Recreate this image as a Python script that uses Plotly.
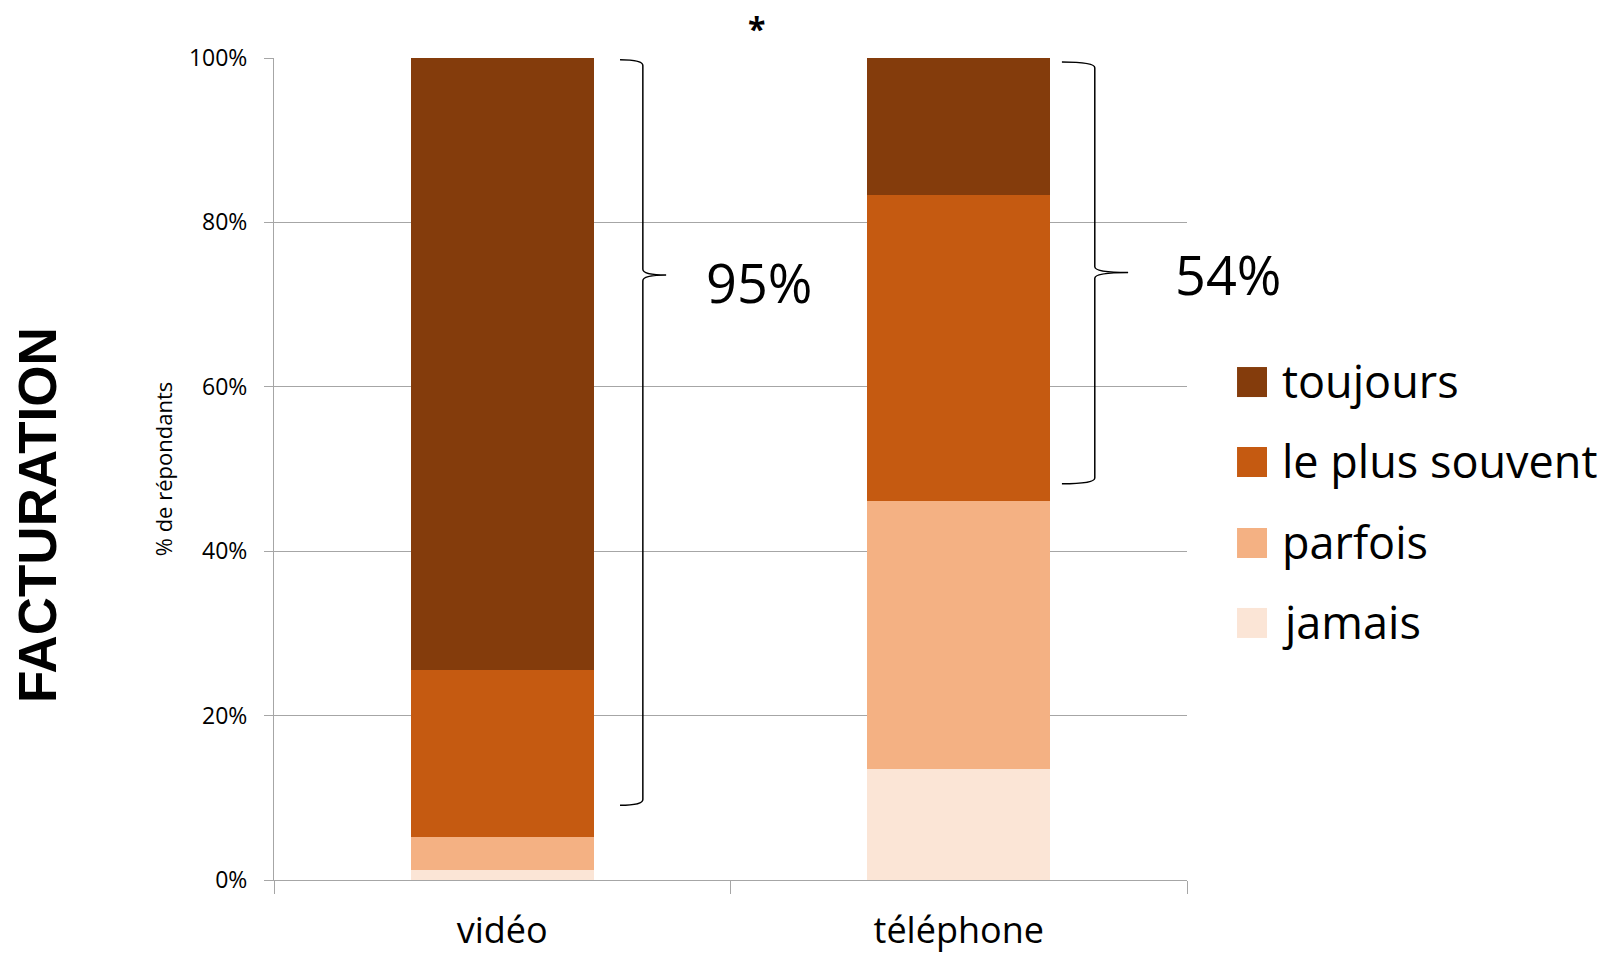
import plotly.graph_objects as go

# ---- data ----
categories = ["vidéo", "téléphone"]
series_names = ["jamais", "parfois", "le plus souvent", "toujours"]
series_colors = ["#FBE5D6", "#F4B183", "#C55A11", "#843C0C"]
jamais = [1.2, 13.5]
parfois = [4.0, 32.6]
le_plus_souvent = [20.3, 37.2]
toujours = [74.5, 16.7]
series_values = [jamais, parfois, le_plus_souvent, toujours]

y_ticks = [0, 20, 40, 60, 80, 100]

# brace annotations (x in category units, y in %)
brace_labels = ["95%", "54%"]
brace_x0 = [0.258, 1.226]
brace_xv = [0.308, 1.298]
brace_xt = [0.359, 1.371]
brace_top = [99.8, 99.5]
brace_mid = [73.6, 73.9]
brace_bot = [9.1, 48.2]

FONT = "Open Sans"

fig = go.Figure()
for name, color, vals in zip(series_names, series_colors, series_values):
    fig.add_trace(go.Bar(
        x=categories, y=vals, name=name,
        marker=dict(color=color, line=dict(width=0)),
        width=0.4, showlegend=False,
    ))

shapes = []
annotations = []

def brace_path(x0, xv, xt, top, mid, bot, r=0.7):
    return (f"M{x0},{top} Q{xv},{top} {xv},{top - r} "
            f"L{xv},{mid + r} Q{xv},{mid} {xt},{mid} "
            f"Q{xv},{mid} {xv},{mid - r} "
            f"L{xv},{bot + r} Q{xv},{bot} {x0},{bot}")

for i in range(len(brace_labels)):
    shapes.append(dict(
        type="path", xref="x", yref="y",
        path=brace_path(brace_x0[i], brace_xv[i], brace_xt[i],
                        brace_top[i], brace_mid[i], brace_bot[i]),
        line=dict(color="black", width=1.5),
    ))

# brace labels
label_pos = [(0.531, 0.727), (1.045, 0.737)]
for lab, (px, py) in zip(brace_labels, label_pos):
    annotations.append(dict(
        text=lab, x=px, y=py, xref="paper", yref="paper",
        xanchor="center", yanchor="middle", showarrow=False,
        font=dict(family=FONT, size=54, color="black"),
    ))

# custom legend (top to bottom: toujours, le plus souvent, parfois, jamais)
leg_y = [0.6058, 0.5085, 0.41, 0.3127]
half = 0.01825
for j, idx in enumerate(reversed(range(len(series_names)))):
    yc = leg_y[j]
    shapes.append(dict(
        type="rect", xref="paper", yref="paper",
        x0=1.0548, x1=1.0876, y0=yc - half, y1=yc + half,
        fillcolor=series_colors[idx], line=dict(width=0),
    ))
    annotations.append(dict(
        text=series_names[idx], x=1.102, y=yc + 0.002, xref="paper", yref="paper",
        xanchor="left", yanchor="middle", showarrow=False,
        font=dict(family=FONT, size=45, color="black"),
    ))

# asterisk
annotations.append(dict(
    text="<b>*</b>", x=0.528, y=1.036, xref="paper", yref="paper",
    xanchor="center", yanchor="middle", showarrow=False,
    font=dict(family=FONT, size=32, color="black"),
))

# FACTURATION
annotations.append(dict(
    text="<b>FACTURATION</b>", x=-0.2596, y=0.444, xref="paper", yref="paper",
    xanchor="center", yanchor="middle", showarrow=False, textangle=-90,
    font=dict(family="Liberation Sans", size=53, color="black"),
))

fig.update_layout(
    width=1611, height=955,
    margin=dict(l=274, r=424, t=58, b=75, autoexpand=False),
    plot_bgcolor="white", paper_bgcolor="white",
    barmode="stack", bargap=0.6,
    showlegend=False,
    shapes=shapes, annotations=annotations,
    font=dict(family=FONT, color="black"),
    xaxis=dict(
        type="category", range=[-0.5, 1.5],
        showgrid=False, showline=True, linecolor="#A6A6A6", linewidth=1,
        ticks="outside", tickson="boundaries", ticklen=13, tickcolor="#A6A6A6",
        tickfont=dict(family=FONT, size=36, color="black"),
        ticklabelstandoff=19,
    ),
    yaxis=dict(
        range=[0, 100], tickvals=y_ticks, ticktext=[f"{v}%" for v in y_ticks],
        showgrid=True, gridcolor="#A6A6A6", gridwidth=1,
        showline=True, linecolor="#A6A6A6", linewidth=1, zeroline=False,
        ticks="outside", ticklen=9, tickcolor="#A6A6A6",
        tickfont=dict(family=FONT, size=23, color="black"),
        ticklabelstandoff=12,
        title=dict(text="% de répondants", standoff=10,
                   font=dict(family=FONT, size=22, color="black")),
    ),
)

fig.write_html("out.html",
               config={"displayModeBar": False},
               post_script="document.body.style.margin='0px';document.body.style.overflow='hidden';")
